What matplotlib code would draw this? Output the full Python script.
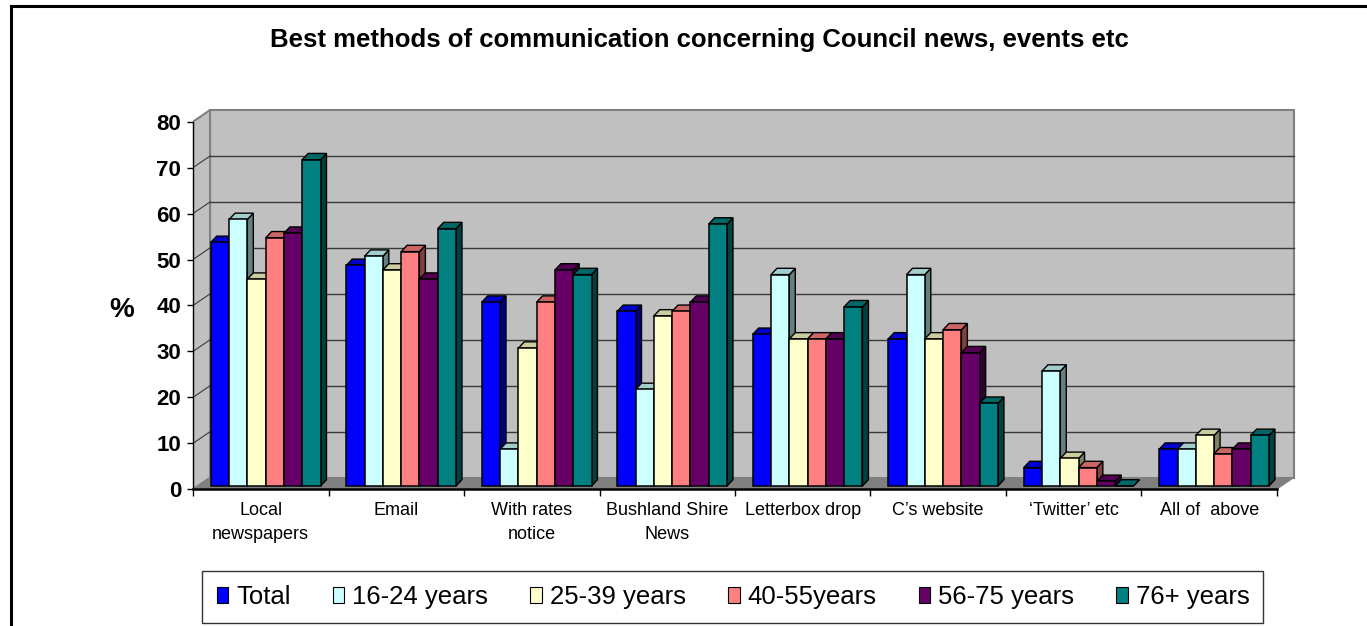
#!/usr/bin/env python
# coding: utf-8

# Best methods of communication - pseudo 3D clustered column chart (Excel look)

import numpy as np
import matplotlib
matplotlib.use('Agg')
import matplotlib.pyplot as plt
import matplotlib.colors as mcolors
from matplotlib.patches import Polygon, Rectangle


plt.rcParams['font.family'] = ['Liberation Sans', 'DejaVu Sans']

# Data (%)
categories = ["Local\nnewspapers", "Email", "With rates\nnotice", "Bushland Shire\nNews",
              "Letterbox drop", "C\u2019s website", "\u2018Twitter\u2019 etc", "All of  above"]
series     = ["Total", "16-24 years", "25-39 years", "40-55years", "56-75 years", "76+ years"]

total     = [53, 48, 40, 38, 33, 32, 4, 8]
age_16_24 = [58, 50,  8, 21, 46, 46, 25, 8]
age_25_39 = [45, 47, 30, 37, 32, 32, 6, 11]
age_40_55 = [54, 51, 40, 38, 32, 34, 4, 7]
age_56_75 = [55, 45, 47, 40, 32, 29, 1, 8]
age_76    = [71, 56, 46, 57, 39, 18, 0, 11]

values = [total, age_16_24, age_25_39, age_40_55, age_56_75, age_76]
colors = ['#0000FF', '#CCFFFF', '#FFFFCC', '#FF8080', '#660066', '#008080']

yticks = list(range(0, 90, 10))

# 3D look: depth offsets in data units
BAR_W   = 0.135
WALL_DX = 0.1255
WALL_DY = 2.53
BASE_DX = 0.036     # bars stand a bit behind the front edge
BASE_DY = 0.72
BAR_DX  = 0.044     # depth of one bar
BAR_DY  = 1.37

WALL  = '#C0C0C0'
EDGE  = '#808080'
FLOOR = '#808080'
GRID  = '#3a3a3a'


def shade(color, f):
    return tuple(np.array(mcolors.to_rgb(color)) * f)


# Walls, floor and gridlines
def drawWalls(ax, n):

    x0, x1 = -0.5, n - 0.5
    top = yticks[-1]

    back = Rectangle((x0 + WALL_DX, WALL_DY), x1 - x0, top, facecolor=WALL,
                     edgecolor=EDGE, linewidth=1.5, zorder=1)
    ax.add_patch(back)

    side = Polygon([(x0, 0), (x0 + WALL_DX, WALL_DY), (x0 + WALL_DX, top + WALL_DY), (x0, top)],
                   closed=True, facecolor=WALL, edgecolor=EDGE, linewidth=1.5, zorder=1)
    ax.add_patch(side)

    floor = Polygon([(x0, 0), (x1, 0), (x1 + WALL_DX, WALL_DY), (x0 + WALL_DX, WALL_DY)],
                    closed=True, facecolor=FLOOR, edgecolor=FLOOR, linewidth=0.5, zorder=1.2)
    ax.add_patch(floor)

    for k in yticks[1:-1]:
        ax.plot([x0 + WALL_DX, x1 + WALL_DX], [k + WALL_DY, k + WALL_DY],
                color=GRID, linewidth=1.0, zorder=1.1)
        ax.plot([x0, x0 + WALL_DX], [k, k + WALL_DY], color=GRID, linewidth=0.8, zorder=1.1)


# Bars with a front face (ax.bar) plus top and side faces
def drawBars(ax):

    n_series = len(values)
    x = np.arange(len(categories))
    group_w = BAR_W * n_series

    for j, (vals, col) in enumerate(zip(values, colors)):
        left = x - group_w / 2 + j * BAR_W + BASE_DX
        z = 3 + 0.1 * j

        for xl, v in zip(left, vals):
            xr = xl + BAR_W
            yb = BASE_DY
            yt = BASE_DY + v
            sideface = Polygon([(xr, yb), (xr + BAR_DX, yb + BAR_DY), (xr + BAR_DX, yt + BAR_DY), (xr, yt)],
                               closed=True, facecolor=shade(col, 0.5), edgecolor='black',
                               linewidth=1.0, zorder=z)
            topface = Polygon([(xl, yt), (xl + BAR_DX, yt + BAR_DY), (xr + BAR_DX, yt + BAR_DY), (xr, yt)],
                              closed=True, facecolor=shade(col, 0.8), edgecolor='black',
                              linewidth=1.0, zorder=z)
            ax.add_patch(sideface)
            ax.add_patch(topface)

        ax.bar(left, vals, BAR_W, bottom=BASE_DY, align='edge', color=col,
               edgecolor='black', linewidth=1.1, zorder=z + 0.05)


def plotChart(out_file):

    fig = plt.figure(figsize=(13.67, 6.26), dpi=100)

    ax = fig.add_axes([0.1412, 0.2184, 0.8425, 0.6166])
    ax.set_xlim(-0.5, 8.0)
    ax.set_ylim(0, 84)
    ax.patch.set_visible(False)

    n = len(categories)
    drawWalls(ax, n)
    drawBars(ax)

    # axes lines
    for s in ['top', 'right']:
        ax.spines[s].set_visible(False)
    ax.spines['left'].set_bounds(0, yticks[-1])
    ax.spines['left'].set_linewidth(1.0)
    ax.spines['bottom'].set_bounds(-0.5, n - 0.5)
    ax.spines['bottom'].set_linewidth(1.8)

    ax.set_yticks(yticks)
    ax.set_yticklabels([str(t) for t in yticks], fontsize=16, fontweight='bold')
    ax.tick_params(axis='y', direction='out', length=4.5, width=1.0, pad=4)

    ax.set_xticks(np.arange(n + 1) - 0.5)
    ax.set_xticklabels([])
    ax.tick_params(axis='x', which='major', direction='out', length=5, width=1.0)
    ax.set_xticks(np.arange(n), minor=True)
    ax.set_xticklabels(categories, minor=True, fontsize=13, linespacing=1.55)
    ax.tick_params(axis='x', which='minor', length=0, pad=9)

    ax.set_ylabel("%", rotation=0, fontsize=20, fontweight='bold', va='center', ha='center')
    ax.yaxis.set_label_coords(-0.0616, 0.465)

    fig.text(0.5113, 0.9254, "Best methods of communication concerning Council news, events etc",
             ha='center', va='baseline', fontsize=18.5, fontweight='bold')

    # legend
    handles = [Rectangle((0, 0), 1, 1, facecolor=c, edgecolor='black', linewidth=0.8) for c in colors]
    leg = fig.legend(handles, series, loc='center', bbox_to_anchor=(0.5362, 0.0463), ncol=len(series),
                     fontsize=18.5, frameon=True, fancybox=False, handlelength=0.45, handleheight=0.6,
                     handletextpad=0.3, columnspacing=1.65, borderpad=0.55, borderaxespad=0)
    leg.get_frame().set_edgecolor('black')
    leg.get_frame().set_linewidth(1.0)

    # outer chart border (only left and top visible in the crop)
    fig.add_artist(Rectangle((11 / 1367, -0.2), 1.2, 1.2 - 6 / 626, transform=fig.transFigure,
                             facecolor='none', edgecolor='black', linewidth=2.2))

    plt.savefig(out_file, dpi=100)


if __name__ == "__main__":
    plotChart("out.png")
